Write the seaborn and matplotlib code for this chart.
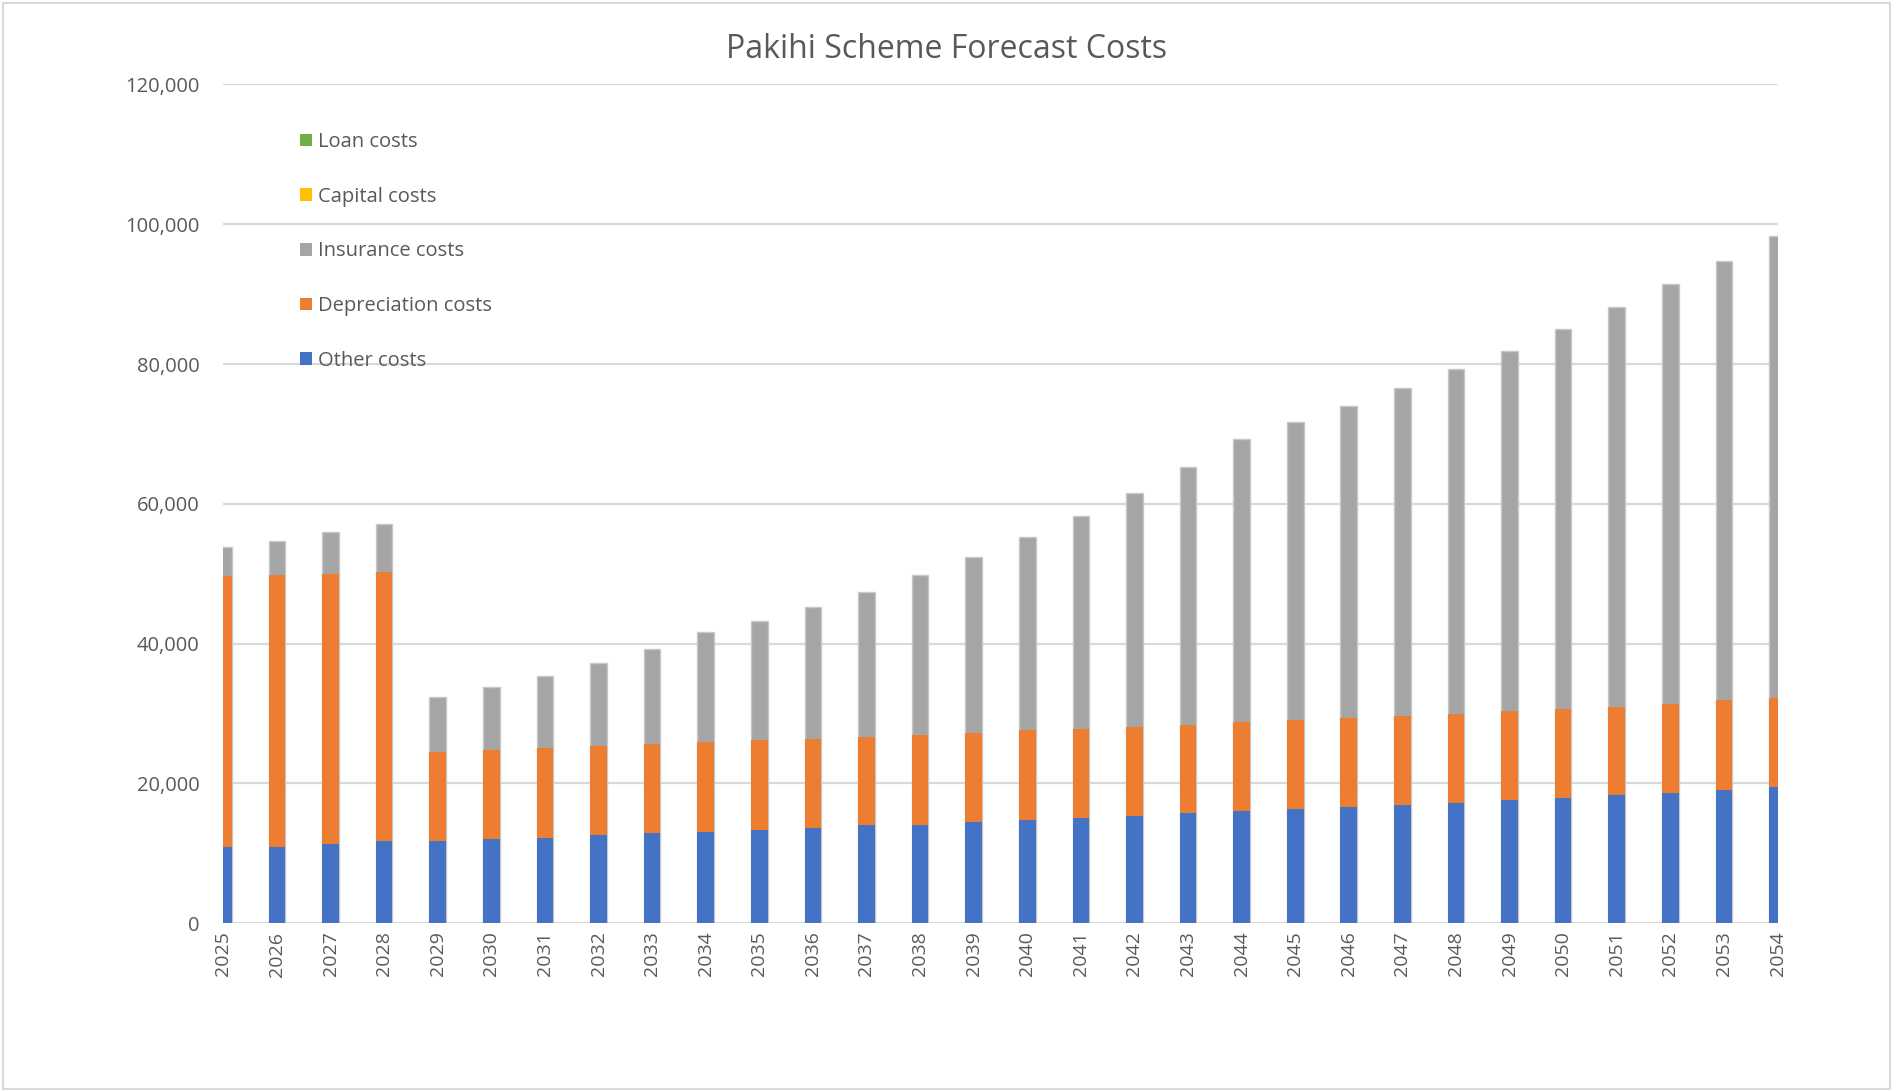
import numpy as np
import pandas as pd
import matplotlib
matplotlib.use('Agg')
import matplotlib.pyplot as plt
import seaborn as sns
from matplotlib.patches import Patch, Rectangle
from matplotlib.ticker import FuncFormatter

years = [str(y) for y in range(2025, 2055)]

other_costs = [10900, 10900, 11400, 11700, 11800, 12100, 12200, 12600, 12900, 13100,
               13400, 13600, 14000, 14100, 14500, 14800, 15000, 15300, 15700, 16000,
               16400, 16600, 16900, 17200, 17600, 17900, 18300, 18600, 19000, 19500]
depreciation_costs = [38800, 38900, 38600, 38600, 12700, 12700, 12800, 12700, 12800, 12800,
                      12800, 12800, 12700, 12800, 12700, 12800, 12800, 12800, 12700, 12800,
                      12700, 12700, 12800, 12800, 12700, 12800, 12700, 12800, 12900, 12700]
insurance_costs = [4100, 4900, 5900, 6800, 7900, 9000, 10300, 11900, 13600, 15700,
                   17100, 18900, 20700, 22900, 25200, 27600, 30500, 33500, 36800, 40500,
                   42600, 44700, 46900, 49300, 51600, 54300, 57100, 60000, 62800, 66100]
capital_costs = [0] * 30
loan_costs = [0] * 30

labels = ['Loan costs', 'Capital costs', 'Insurance costs', 'Depreciation costs', 'Other costs']
colors = ['#70AD47', '#FFC000', '#A5A5A5', '#ED7D31', '#4472C4']

df = pd.DataFrame({
    'year': years,
    'Other costs': other_costs,
    'Depreciation costs': depreciation_costs,
    'Insurance costs': insurance_costs,
    'Capital costs': capital_costs,
    'Loan costs': loan_costs,
})

# cumulative tops, drawn back to front so the layers look stacked
stack = ['Other costs', 'Depreciation costs', 'Insurance costs', 'Capital costs', 'Loan costs']
cum = df[stack].cumsum(axis=1)

sns.set_theme(style='white')
plt.rcParams['font.family'] = ['Open Sans', 'DejaVu Sans']

fig = plt.figure(figsize=(18.93, 10.91), dpi=100)
ax = fig.add_axes([0.118, 0.1538, 0.821, 0.7688])

color_map = dict(zip(labels, colors))
for name in reversed(stack):
    ec = '#C8C8C8' if name == 'Insurance costs' else 'none'
    sns.barplot(x=df['year'], y=cum[name], color=color_map[name], saturation=1,
                width=0.31, errorbar=None, ax=ax, edgecolor=ec, linewidth=1.0, zorder=3)

ax.set_xlim(0, len(years) - 1)
ax.set_ylim(0, 120000)
ax.set_yticks(np.arange(0, 120001, 20000))
ax.yaxis.set_major_formatter(FuncFormatter(lambda v, p: f'{int(v):,}'))
ax.grid(axis='y', color='#D9D9D9', linewidth=1.6, zorder=0)
ax.set_axisbelow(True)
for s in ax.spines.values():
    s.set_visible(False)
ax.set_xlabel('')
ax.set_ylabel('')
ax.tick_params(axis='x', labelrotation=90, labelsize=14, colors='#595959', length=0, pad=6)
ax.tick_params(axis='y', labelsize=14.5, colors='#595959', length=0, pad=17)

fig.suptitle('Pakihi Scheme Forecast Costs', x=0.5, y=0.97, fontsize=23, color='#595959')

handles = [Patch(facecolor=c, edgecolor='none') for c in colors]
fig.legend(handles, labels, loc='upper left', bbox_to_anchor=(0.149, 0.8955),
           frameon=False, fontsize=14.5, labelcolor='#595959', labelspacing=1.72,
           handlelength=0.6, handleheight=0.6, handletextpad=0.3)

fig.patches.append(Rectangle((0.0015, 0.0015), 0.997, 0.996, transform=fig.transFigure,
                             fill=False, edgecolor='#D9D9D9', linewidth=1.5))

fig.savefig('out.png', dpi=100, facecolor='white')
